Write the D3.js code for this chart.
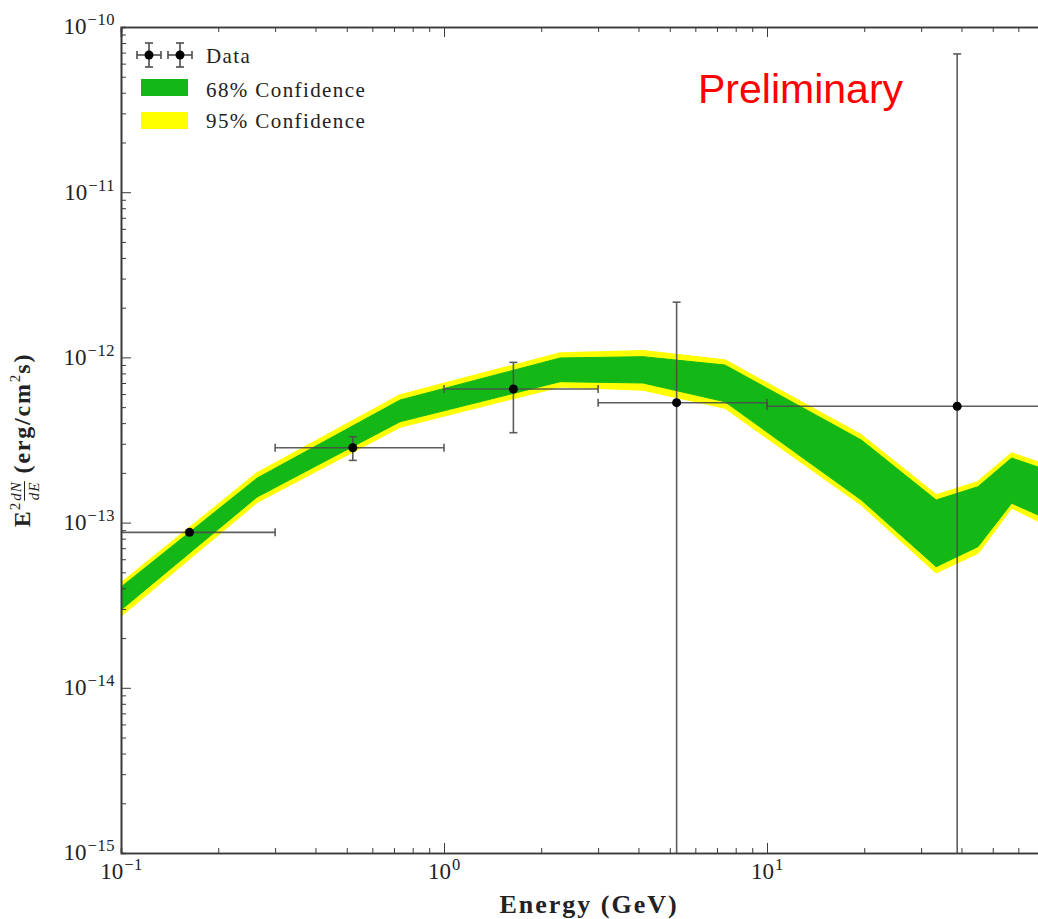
<!DOCTYPE html>
<html>
<head>
<meta charset="utf-8">
<script src="https://cdn.jsdelivr.net/npm/d3@7"></script>
<style>
  body { margin: 0; background: #fff; }
  svg { display: block; }
</style>
</head>
<body>
<script>
// confidence band (GeV, erg/cm^2/s)
const bandE    = [0.1, 0.264, 0.731, 2.29, 4.13, 7.41, 19.6, 33.4, 45.0, 57.2, 70];
const band95Hi = [4.31e-14, 2.00e-13, 5.92e-13, 1.064e-12, 1.098e-12, 9.64e-13, 3.39e-13, 1.47e-13, 1.77e-13, 2.64e-13, 2.30e-13];
const band68Hi = [4.07e-14, 1.86e-13, 5.52e-13, 9.92e-13, 1.01e-12, 8.99e-13, 3.16e-13, 1.37e-13, 1.65e-13, 2.46e-13, 2.15e-13];
const band68Lo = [2.96e-14, 1.43e-13, 4.08e-13, 7.13e-13, 7.00e-13, 5.39e-13, 1.37e-13, 5.41e-14, 7.15e-14, 1.31e-13, 1.10e-13];
const band95Lo = [2.72e-14, 1.33e-13, 3.79e-13, 6.65e-13, 6.35e-13, 4.94e-13, 1.28e-13, 4.98e-14, 6.55e-14, 1.23e-13, 1.01e-13];

// data points with error bars
const dataE   = [0.163, 0.522, 1.64, 5.25, 38.8];
const dataELo = [0.1, 0.3, 1, 3, 10];
const dataEHi = [0.3, 1, 3, 10, 100];
const dataF   = [8.73e-14, 2.84e-13, 6.44e-13, 5.32e-13, 5.06e-13];
const dataFLo = [8.5e-14, 2.38e-13, 3.50e-13, 1e-17, 1e-17];
const dataFHi = [9.0e-14, 3.31e-13, 9.33e-13, 2.16e-12, 6.87e-11];

const xMajor = [0.1, 1, 10, 100];
const yMajor = [1e-15, 1e-14, 1e-13, 1e-12, 1e-11, 1e-10];

const W = 1038, H = 919;
const serif = "'Liberation Serif', 'DejaVu Serif', serif";
const axisCol = "#3a3a3a";

const svg = d3.select("body").append("svg")
  .attr("width", W)
  .attr("height", H);

const x = d3.scaleLog().domain([0.1, 100]).range([121, 1090]);
const y = d3.scaleLog().domain([1e-15, 1e-10]).range([853, 27]);

svg.append("defs").append("clipPath").attr("id", "clip")
  .append("rect")
  .attr("x", x.range()[0]).attr("y", y.range()[1])
  .attr("width", x.range()[1] - x.range()[0])
  .attr("height", y.range()[0] - y.range()[1]);

const plot = svg.append("g").attr("clip-path", "url(#clip)");

// bands
const band = (lo, hi) => d3.area()
  .x((d, i) => x(bandE[i]))
  .y0((d, i) => y(lo[i]))
  .y1((d, i) => y(hi[i]));

plot.append("path").datum(bandE)
  .attr("d", band(band95Lo, band95Hi))
  .attr("fill", "#ffff00")
  .attr("stroke", "#ffff00")
  .attr("stroke-width", 1.5)
  .attr("stroke-linejoin", "round");

plot.append("path").datum(bandE)
  .attr("d", band(band68Lo, band68Hi))
  .attr("fill", "#13b817")
  .attr("stroke", "#13b817")
  .attr("stroke-width", 1)
  .attr("stroke-linejoin", "round");

// error bars
const pts = dataE.map((e, i) => ({ e, f: dataF[i], e0: dataELo[i], e1: dataEHi[i], f0: dataFLo[i], f1: dataFHi[i] }));
const ebCol = "#4d4d4d";
const cap = 4;
const eb = plot.append("g").attr("stroke", ebCol).attr("stroke-width", 1.6).attr("stroke-opacity", 0.9);

eb.selectAll(".h").data(pts).enter().append("line")
  .attr("x1", d => x(d.e0)).attr("x2", d => x(d.e1))
  .attr("y1", d => y(d.f)).attr("y2", d => y(d.f));
eb.selectAll(".v").data(pts).enter().append("line")
  .attr("x1", d => x(d.e)).attr("x2", d => x(d.e))
  .attr("y1", d => y(d.f0)).attr("y2", d => y(d.f1));
// caps
pts.forEach(d => {
  [d.e0, d.e1].forEach(v => {
    eb.append("line").attr("x1", x(v)).attr("x2", x(v))
      .attr("y1", y(d.f) - cap).attr("y2", y(d.f) + cap);
  });
  [d.f0, d.f1].forEach(v => {
    eb.append("line").attr("x1", x(d.e) - cap).attr("x2", x(d.e) + cap)
      .attr("y1", y(v)).attr("y2", y(v));
  });
});

plot.selectAll("circle").data(pts).enter().append("circle")
  .attr("cx", d => x(d.e)).attr("cy", d => y(d.f))
  .attr("r", 4.5).attr("fill", "#000");

// axes
const xMinor = x.ticks().filter(v => !xMajor.some(m => Math.abs(m - v) / m < 1e-6));
const yMinor = y.ticks().filter(v => !yMajor.some(m => Math.abs(m - v) / m < 1e-6));

function styleAxis(g) {
  g.select(".domain").attr("stroke", axisCol).attr("stroke-width", 1.6);
  g.selectAll(".tick line").attr("stroke", axisCol).attr("stroke-width", 1);
}

function supLabel(sel, size) {
  sel.each(function(d) {
    const t = d3.select(this);
    const ex = Math.round(Math.log10(d));
    t.text(null)
      .attr("font-family", serif).attr("font-size", size).attr("fill", "#222");
    t.append("tspan").text("10");
    t.append("tspan").attr("dy", -9).attr("dx", 1).attr("font-size", size * 0.72)
      .attr("letter-spacing", 0.5)
      .text((ex < 0 ? "\u2212" : "") + Math.abs(ex));
  });
}

const gLeft = svg.append("g").attr("transform", `translate(${x.range()[0]},0)`)
  .call(d3.axisLeft(y).tickValues(yMajor).tickSizeInner(-10).tickSizeOuter(0).tickPadding(6));
gLeft.call(styleAxis);
gLeft.selectAll(".tick text").attr("dy", "0.3em").call(supLabel, 23);

svg.append("g").attr("transform", `translate(${x.range()[0]},0)`)
  .call(d3.axisLeft(y).tickValues(yMinor).tickSize(-5).tickFormat(""))
  .call(styleAxis);

const gBottom = svg.append("g").attr("transform", `translate(0,${y.range()[0]})`)
  .call(d3.axisBottom(x).tickValues(xMajor).tickSizeInner(-10).tickSizeOuter(0).tickPadding(10));
gBottom.call(styleAxis);
gBottom.selectAll(".tick text").call(supLabel, 23);
// labels whose tick lies outside the picture are dropped
gBottom.selectAll(".tick text").filter(d => x(d) > W).remove();

svg.append("g").attr("transform", `translate(0,${y.range()[0]})`)
  .call(d3.axisBottom(x).tickValues(xMinor).tickSize(-5).tickFormat(""))
  .call(styleAxis);

svg.append("g").attr("transform", `translate(0,${y.range()[1]})`)
  .call(d3.axisTop(x).tickValues(xMajor).tickSize(-10).tickFormat(""))
  .call(styleAxis);
svg.append("g").attr("transform", `translate(0,${y.range()[1]})`)
  .call(d3.axisTop(x).tickValues(xMinor).tickSize(-5).tickFormat(""))
  .call(styleAxis);

// x label
svg.append("text")
  .attr("x", 589).attr("y", 913)
  .attr("text-anchor", "middle")
  .attr("font-family", serif).attr("font-weight", "bold").attr("font-size", 26)
  .attr("letter-spacing", 2)
  .attr("fill", "#222")
  .text("Energy (GeV)");

// y label: E^2 dN/dE (erg/cm^2 s), built piece by piece
const yl = svg.append("g").attr("transform", "translate(30,440) rotate(-90)");
const yli = yl.append("g");
let cx = 0;
function piece(txt, opts) {
  const t = yli.append("text").attr("x", cx).attr("y", opts.y || 0)
    .attr("font-family", serif).attr("font-size", opts.size)
    .attr("font-weight", opts.bold ? "bold" : "normal")
    .attr("font-style", opts.italic ? "italic" : "normal")
    .attr("letter-spacing", opts.ls || 0)
    .attr("fill", "#222").text(txt);
  return t;
}
function adv(t) { cx += t.node().getComputedTextLength(); }
adv(piece("E", { size: 24, bold: true, ls: 1 }));
adv(piece("2", { size: 15, y: -10 }));
cx += 2;
{
  const a = piece("dN", { size: 15, italic: true, y: -9, ls: 1 });
  const b = piece("dE", { size: 15, italic: true, y: 9, ls: 1 });
  const wa = a.node().getComputedTextLength(), wb = b.node().getComputedTextLength();
  const w = Math.max(wa, wb);
  a.attr("x", cx + (w - wa) / 2);
  b.attr("x", cx + (w - wb) / 2);
  yli.append("line").attr("x1", cx).attr("x2", cx + w).attr("y1", -5.5).attr("y2", -5.5)
    .attr("stroke", "#222").attr("stroke-width", 1);
  cx += w;
}
adv(piece("\u00a0(erg/cm", { size: 24, bold: true, ls: 1.8 }));
adv(piece("2", { size: 15, y: -10 }));
cx += 1;
adv(piece("s)", { size: 24, bold: true, ls: 1.8 }));
yli.attr("transform", `translate(${-cx / 2},0)`);

// legend
const lg = svg.append("g");
[149, 180].forEach(cxm => {
  const g = lg.append("g").attr("stroke", ebCol).attr("stroke-width", 1.6);
  g.append("line").attr("x1", cxm - 12).attr("x2", cxm + 12).attr("y1", 55).attr("y2", 55);
  g.append("line").attr("x1", cxm).attr("x2", cxm).attr("y1", 43).attr("y2", 67);
  [cxm - 12, cxm + 12].forEach(v => g.append("line").attr("x1", v).attr("x2", v).attr("y1", 51).attr("y2", 59));
  [43, 67].forEach(v => g.append("line").attr("x1", cxm - 4).attr("x2", cxm + 4).attr("y1", v).attr("y2", v));
  lg.append("circle").attr("cx", cxm).attr("cy", 55).attr("r", 4.5).attr("fill", "#000");
});
const legendItems = [
  { label: "Data", y: 63 },
  { label: "68% Confidence", y: 97, color: "#13b817", top: 79 },
  { label: "95% Confidence", y: 128, color: "#ffff00", top: 112 }
];
legendItems.forEach(d => {
  if (d.color) {
    lg.append("rect").attr("x", 141).attr("y", d.top).attr("width", 47).attr("height", 17).attr("fill", d.color);
  }
  lg.append("text").attr("x", 206).attr("y", d.y)
    .attr("font-family", serif).attr("font-size", 21).attr("letter-spacing", 1.4)
    .attr("fill", "#222")
    .text(d.label);
});

// watermark
svg.append("text")
  .attr("x", 698).attr("y", 103)
  .attr("font-family", "'Liberation Sans', Arial, sans-serif")
  .attr("font-size", 41).attr("fill", "#ff0000")
  .text("Preliminary");
</script>
</body>
</html>
